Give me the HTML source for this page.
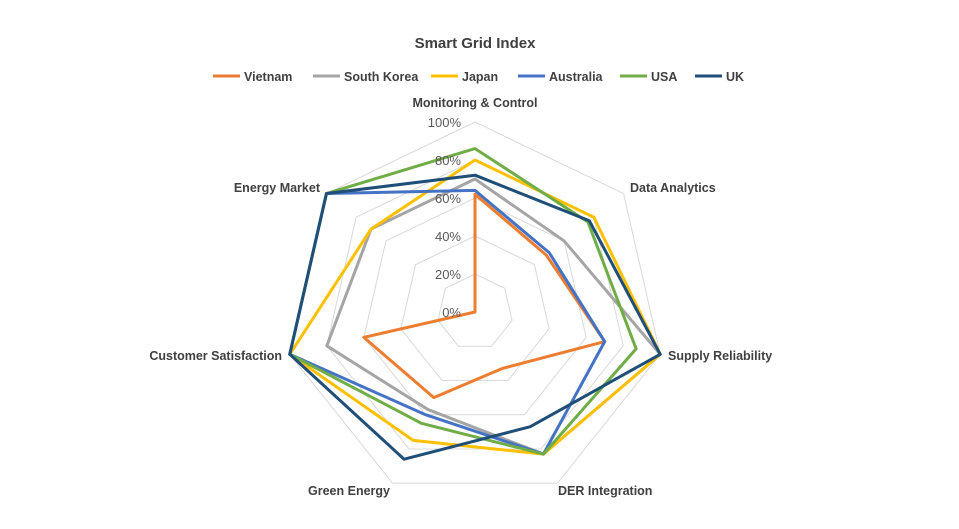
<!DOCTYPE html>
<html><head><meta charset="utf-8"><style>
body{margin:0;background:#fff;}
svg text{font-family:"Liberation Sans",sans-serif;}
</style></head><body>
<svg width="959" height="524" xmlns="http://www.w3.org/2000/svg" id="s">
<rect width="959" height="524" fill="#fff"/>
<text x="475" y="48" text-anchor="middle" font-size="15" font-weight="bold" fill="#404040">Smart Grid Index</text>
<g font-size="12.5" font-weight="bold" fill="#404040">
<line x1="213" y1="76" x2="240" y2="76" stroke="#ED7D31" stroke-width="3"/><text x="244" y="81">Vietnam</text>
<line x1="313" y1="76" x2="340" y2="76" stroke="#A5A5A5" stroke-width="3"/><text x="344" y="81">South Korea</text>
<line x1="431" y1="76" x2="458" y2="76" stroke="#FFC000" stroke-width="3"/><text x="462" y="81">Japan</text>
<line x1="518" y1="76" x2="545" y2="76" stroke="#4472C4" stroke-width="3"/><text x="549" y="81">Australia</text>
<line x1="620" y1="76" x2="647" y2="76" stroke="#70AD47" stroke-width="3"/><text x="651" y="81">USA</text>
<line x1="695" y1="76" x2="722" y2="76" stroke="#1F4E79" stroke-width="3"/><text x="726" y="81">UK</text>
</g>
<g id="grid"></g>
<g id="series"></g>
<g font-size="12.5" font-weight="bold" fill="#404040">
<text x="475" y="107" text-anchor="middle">Monitoring &amp; Control</text>
<text x="630" y="192">Data Analytics</text>
<text x="668" y="360">Supply Reliability</text>
<text x="558" y="495">DER Integration</text>
<text x="390" y="495" text-anchor="end">Green Energy</text>
<text x="282" y="360" text-anchor="end">Customer Satisfaction</text>
<text x="320" y="192" text-anchor="end">Energy Market</text>
</g>
<g font-size="13" fill="#595959" text-anchor="end">
<text x="461" y="127">100%</text><text x="461" y="165">80%</text><text x="461" y="203">60%</text>
<text x="461" y="241">40%</text><text x="461" y="279">20%</text><text x="461" y="317">0%</text>
</g>
</svg>
<script>
var cx=475,cy=312,R=190,N=7;
function pt(k,r){var a=k*2*Math.PI/N;return [cx+R*r*Math.sin(a),cy-R*r*Math.cos(a)];}
var g='';
for(var l=1;l<=5;l++){var p=[];for(var k=0;k<N;k++)p.push(pt(k,l/5).join(','));g+='<polygon points="'+p.join(' ')+'" fill="none" stroke="#d9d9d9" stroke-width="1"/>';}
document.getElementById('grid').innerHTML=g;
var S=[
['#ED7D31',[0.62,0.48,0.7,0.33,0.5,0.6,0]],
['#A5A5A5',[0.7,0.6,1,0.83,0.57,0.8,0.7]],
['#FFC000',[0.8,0.8,1,0.83,0.75,1,0.7]],
['#4472C4',[0.64,0.5,0.7,0.83,0.6,1,1]],
['#70AD47',[0.86,0.76,0.87,0.83,0.65,1,1]],
['#1F4E79',[0.72,0.77,1,0.67,0.86,1,1]]];
var h='';
S.forEach(function(s){var p=s[1].map(function(v,k){return pt(k,v).join(',');});h+='<polygon points="'+p.join(' ')+'" fill="none" stroke="'+s[0]+'" stroke-width="3" stroke-linejoin="round"/>';});
document.getElementById('series').innerHTML=h;
</script>
</body></html>
